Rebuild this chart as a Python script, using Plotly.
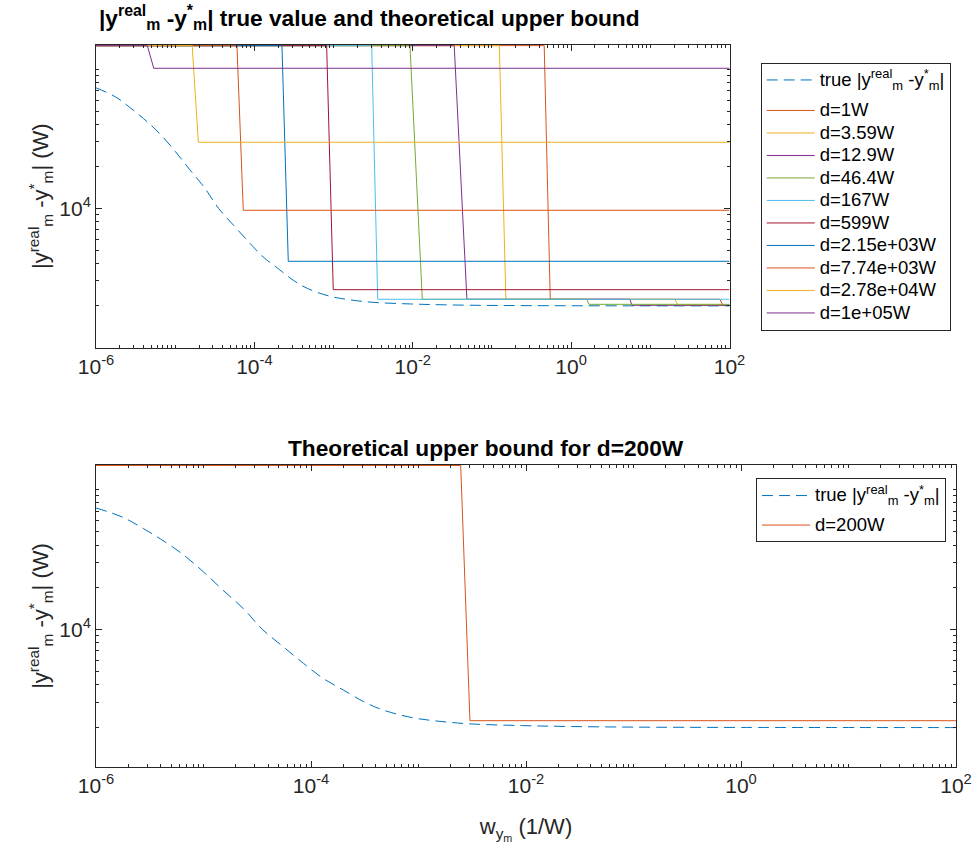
import plotly.graph_objects as go

# ---------------- data ----------------
# true |y_real - y*| curve (same in both panels)
true_x = [1.0e-6, 1.78e-6, 2.75e-6, 3.98e-6, 6.31e-6, 1.0e-5, 1.51e-5, 2.34e-5, 3.55e-5,
          5.50e-5, 8.51e-5, 1.29e-4, 2.0e-4, 3.09e-4, 4.68e-4, 8.71e-4, 1.48e-3, 3.02e-3,
          9.33e-3, 2.57e-2, 0.1, 1.0, 100.0]
true_y = [73600, 63100, 52500, 44200, 34700, 25700, 19100, 14100, 9950,
          7520, 5710, 4470, 3680, 3040, 2650, 2340, 2210, 2110,
          2050, 2020, 2000, 1990, 1985]

Y_TOP = 1.48e5  # bound value that sits on the upper axis limit

d_labels = ["d=1W", "d=3.59W", "d=12.9W", "d=46.4W", "d=167W", "d=599W",
            "d=2.15e+03W", "d=7.74e+03W", "d=2.78e+04W", "d=1e+05W"]

bound_x = [
    [1e-6, 0.457, 0.545, 75.7, 82.6, 100],      # d=1
    [1e-6, 0.124, 0.150, 20.5, 22.3, 100],      # d=3.59
    [1e-6, 0.0334, 0.0483, 5.52, 5.86, 100],    # d=12.9
    [1e-6, 0.00923, 0.0132, 1.57, 1.68, 100],   # d=46.4
    [1e-6, 0.00303, 0.00361, 100],              # d=167
    [1e-6, 8.18e-4, 9.91e-4, 100],              # d=599
    [1e-6, 2.23e-4, 2.68e-4, 100],              # d=2.15e3
    [1e-6, 6.03e-5, 7.24e-5, 100],              # d=7.74e3
    [1e-6, 1.64e-5, 1.96e-5, 100],              # d=2.78e4
    [1e-6, 4.45e-6, 5.36e-6, 100],              # d=1e5
]
bound_y = [
    [Y_TOP, Y_TOP, 2215, 2215, 2005, 2005],
    [Y_TOP, Y_TOP, 2215, 2215, 2005, 2005],
    [Y_TOP, Y_TOP, 2215, 2215, 2005, 2005],
    [Y_TOP, Y_TOP, 2215, 2215, 2037, 2037],
    [Y_TOP, Y_TOP, 2215, 2215],
    [Y_TOP, Y_TOP, 2597, 2597],
    [Y_TOP, Y_TOP, 4156, 4156],
    [Y_TOP, Y_TOP, 9674, 9674],
    [Y_TOP, Y_TOP, 29850, 29850],
    [Y_TOP, Y_TOP, 101700, 101700],
]

d200_x = [1e-6, 0.00247, 0.00301, 100]
d200_y = [Y_TOP, Y_TOP, 2223, 2223]

colors = ["#D95319", "#EDB120", "#7E2F8E", "#77AC30", "#4DBEEE", "#A2142F",
          "#0072BD", "#D95319", "#EDB120", "#7E2F8E"]
true_color = "#0072BD"

x_tickvals = [1e-6, 1e-4, 1e-2, 1, 100]
x_ticktext = ["10<sup>-6</sup>", "10<sup>-4</sup>", "10<sup>-2</sup>", "10<sup>0</sup>", "10<sup>2</sup>"]
y_tickvals = [1e4]
y_ticktext = ["10<sup>4</sup>"]

x_minor = [k * 10.0 ** e for e in range(-6, 2) for k in range(2, 10)] + [1e-5, 1e-3, 1e-1, 10]
y_minor = [k * 10.0 ** e for e in (3, 4) for k in range(2, 10)] + [1e5]

# ---------------- figure ----------------
W, H = 977, 859
FONT = "Liberation Sans, Arial, Helvetica, sans-serif"
AX = "#262626"
DASH = "11px,6px"


def leg(text):
    return '<span style="font-size:18.5px">' + text + "</span>"


fig = go.Figure()

true_name = "true |y<sup>real</sup><sub>m</sub> -y<sup>*</sup><sub>m</sub>|"
fig.add_trace(go.Scatter(x=true_x, y=true_y, mode="lines", name=leg(true_name),
                         line=dict(color=true_color, width=1, dash=DASH, shape="spline"),
                         xaxis="x", yaxis="y", legend="legend", legendgroup="true1"))
for lab, xs, ys, c in zip(d_labels, bound_x, bound_y, colors):
    fig.add_trace(go.Scatter(x=xs, y=ys, mode="lines", name=leg(lab),
                             line=dict(color=c, width=1),
                             xaxis="x", yaxis="y", legend="legend", legendgroup="bounds1"))

fig.add_trace(go.Scatter(x=true_x, y=true_y, mode="lines", name=leg(true_name),
                         line=dict(color=true_color, width=1, dash=DASH, shape="spline"),
                         xaxis="x2", yaxis="y2", legend="legend2", legendgroup="true2"))
fig.add_trace(go.Scatter(x=d200_x, y=d200_y, mode="lines", name=leg("d=200W"),
                         line=dict(color="#D95319", width=1),
                         xaxis="x2", yaxis="y2", legend="legend2", legendgroup="bounds2"))


def xax(domain, anchor, title=None):
    d = dict(type="log", range=[-6, 2], domain=domain, anchor=anchor, automargin=False,
             showline=True, linecolor=AX, linewidth=1, mirror="allticks",
             ticks="inside", ticklen=6, tickcolor=AX, tickwidth=1,
             tickvals=x_tickvals, ticktext=x_ticktext, showgrid=False, zeroline=False,
             tickfont=dict(family=FONT, size=21, color=AX),
             minor=dict(ticks="inside", ticklen=3, tickcolor=AX, tickmode="array",
                        tickvals=x_minor, showgrid=False))
    if title:
        d["title"] = dict(text=title, font=dict(family=FONT, size=22, color=AX), standoff=22)
    return d


def yax(domain, anchor, rng, title):
    return dict(type="log", range=rng, domain=domain, anchor=anchor, automargin=False,
                showline=True, linecolor=AX, linewidth=1, mirror="allticks",
                ticks="inside", ticklen=6, tickcolor=AX, tickwidth=1,
                tickvals=y_tickvals, ticktext=y_ticktext, showgrid=False, zeroline=False,
                tickfont=dict(family=FONT, size=21, color=AX),
                minor=dict(ticks="inside", ticklen=3, tickcolor=AX, tickmode="array",
                           tickvals=y_minor, showgrid=False),
                title=dict(text=title, font=dict(family=FONT, size=22, color=AX), standoff=4))


ytitle = "|y<sup>real</sup><sub>m</sub> -y<sup>*</sup><sub>m</sub>| (W)"

fig.update_layout(
    template="none",
    width=W, height=H, margin=dict(l=0, r=0, t=0, b=0, autoexpand=False),
    paper_bgcolor="white", plot_bgcolor="white",
    font=dict(family=FONT, color=AX),
    xaxis=xax([96 / W, 729.5 / W], "y"),
    yaxis=yax([(H - 347.7) / H, (H - 44.7) / H], "x", [2.997, 5.177], ytitle),
    xaxis2=xax([96 / W, 956 / W], "y2", "w<sub>y<sub>m</sub></sub> (1/W)"),
    yaxis2=yax([(H - 767) / H, (H - 465) / H], "x2", [3.016, 5.174], ytitle),
    legend=dict(x=760.7 / W, y=(H - 62.7) / H, xanchor="left", yanchor="top",
                bgcolor="white", bordercolor=AX, borderwidth=1, itemwidth=48,
                entrywidth=150, entrywidthmode="pixels",
                font=dict(family=FONT, size=15, color="black"), tracegroupgap=8),
    legend2=dict(x=756 / W, y=(H - 478.3) / H, xanchor="left", yanchor="top",
                 bgcolor="white", bordercolor=AX, borderwidth=1, itemwidth=48,
                 entrywidth=150, entrywidthmode="pixels",
                 font=dict(family=FONT, size=15, color="black"), tracegroupgap=7),
    showlegend=True,
    annotations=[
        dict(text="<b>|y<sup>real</sup><sub>m</sub> -y<sup>*</sup><sub>m</sub>| true value and theoretical upper bound</b>",
             x=97 / W, y=(H - 44.7) / H, xref="paper", yref="paper",
             xanchor="left", yanchor="bottom", yshift=10, showarrow=False,
             font=dict(family=FONT, size=22.7, color="black")),
        dict(text="<b>Theoretical upper bound for d=200W</b>",
             x=485.5 / W, y=(H - 465) / H, xref="paper", yref="paper",
             xanchor="center", yanchor="bottom", yshift=2, showarrow=False,
             font=dict(family=FONT, size=22.7, color="black")),
    ],
)

fig.write_html("out.html")
